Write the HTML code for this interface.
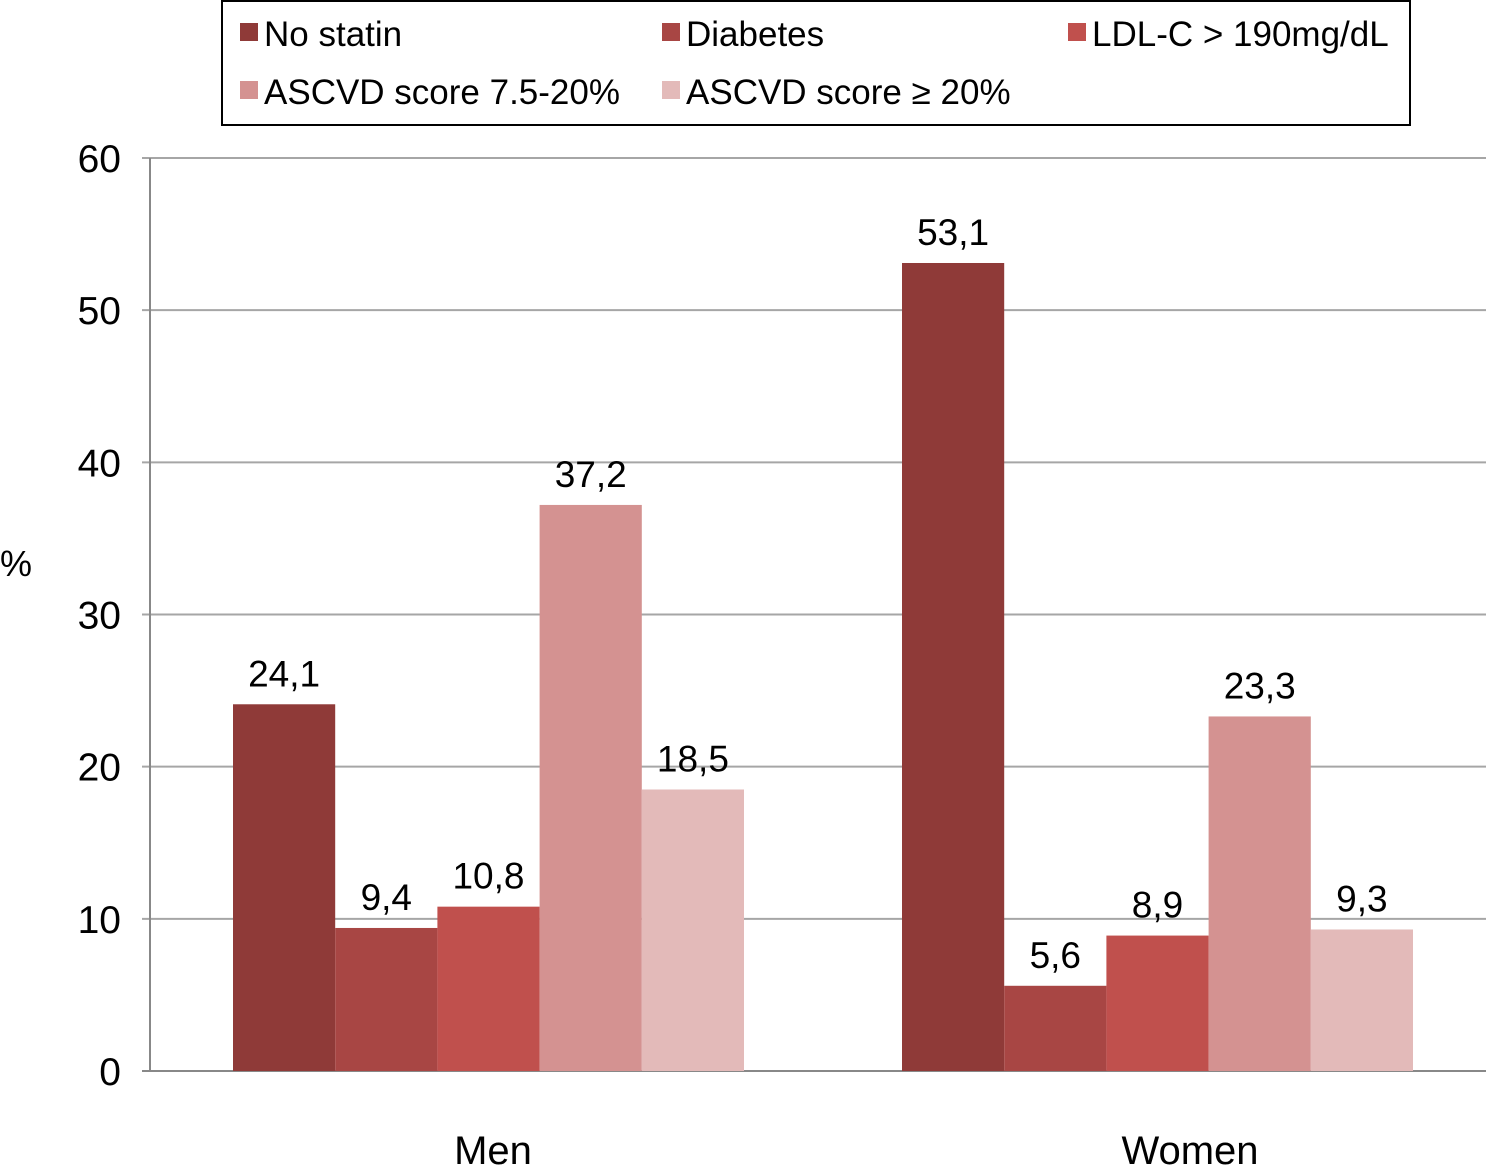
<!DOCTYPE html>
<html><head><meta charset="utf-8">
<style>
body{margin:0;background:#fff;}
svg{display:block;font-family:"Liberation Sans",Arial,sans-serif;}
</style></head>
<body>
<svg id="chart" width="1501" height="1173" viewBox="0 0 1501 1173" xmlns="http://www.w3.org/2000/svg">
<g id="legend">
<rect x="222" y="1" width="1188" height="124" fill="#fff" stroke="#000" stroke-width="2"/>
</g>
<g id="grid"></g>
<g id="bars"></g>
<g id="labels"></g>
<text x="0" y="576" font-size="36" fill="#000">%</text>
</svg>
<script>
const categories = ["Men", "Women"];
const seriesNames = ["No statin", "Diabetes", "LDL-C > 190mg/dL", "ASCVD score 7.5-20%", "ASCVD score \u2265 20%"];
const noStatin = [24.1, 53.1];
const diabetes = [9.4, 5.6];
const ldl = [10.8, 8.9];
const ascvdMid = [37.2, 23.3];
const ascvdHigh = [18.5, 9.3];
const valueLabels = [["24,1","53,1"],["9,4","5,6"],["10,8","8,9"],["37,2","23,3"],["18,5","9,3"]];
const yTicks = [0, 10, 20, 30, 40, 50, 60];

const series = [noStatin, diabetes, ldl, ascvdMid, ascvdHigh];
const colors = ["#8f3a38", "#a84644", "#c0504d", "#d49291", "#e3bab9"];
const NS = "http://www.w3.org/2000/svg";
const y0 = 1071, y60 = 158;
const yScale = v => y0 - (v / 60) * (y0 - y60);
const groupStart = [233, 902];
const catLabelX = [493, 1190];
const barW = 102.2;
const xBar = (g, s) => groupStart[g] + s * barW;
function mk(tag, attrs, parent, text){
  const e = document.createElementNS(NS, tag);
  for (const k in attrs) e.setAttribute(k, attrs[k]);
  if (text !== undefined) e.textContent = text;
  parent.appendChild(e);
  return e;
}
const grid = document.getElementById('grid');
yTicks.forEach(t => {
  const y = yScale(t);
  const l = mk('line', {x1: 142, x2: 1486, y1: y, y2: y, stroke: t === 0 ? '#888' : '#a6a6a6', 'stroke-width': 2}, grid);
  
  
  const tx = mk('text', {x: 121, y: y + 14, 'font-size': 39, 'text-anchor': 'end', fill: '#000'}, grid, String(t));
  
  
});
const ax = mk('line', {x1: 150, x2: 150, y1: y60, y2: y0, stroke: '#888', 'stroke-width': 2}, grid);



const bars = document.getElementById('bars');
const labels = document.getElementById('labels');
categories.forEach((c, g) => {
  series.forEach((s, i) => {
    const x = xBar(g, i), y = yScale(s[g]);
    const r = mk('rect', {x: x, y: y, width: barW, height: y0 - y, fill: colors[i]}, bars);
    
    
    const t = mk('text', {x: x + barW / 2, y: y - 18, 'font-size': 37, 'text-anchor': 'middle', fill: '#000'}, labels, valueLabels[i][g]);
    
    
  });
  const ct = mk('text', {x: catLabelX[g], y: 1164, 'font-size': 40, 'text-anchor': 'middle', fill: '#000'}, labels, c);
  
  
});

const legend = document.getElementById('legend');
const legPos = [[240, 34], [662, 34], [1068, 34], [240, 92], [662, 92]];
seriesNames.forEach((n, i) => {
  const [x, y] = legPos[i];
  const sw = mk('rect', {x: x, y: y - 11, width: 18, height: 18, fill: colors[i]}, legend);
  
  
  const t = mk('text', {x: x + 24, y: y + 12, 'font-size': 35, fill: '#000'}, legend, n);
  
  
});
</script>
</body></html>
